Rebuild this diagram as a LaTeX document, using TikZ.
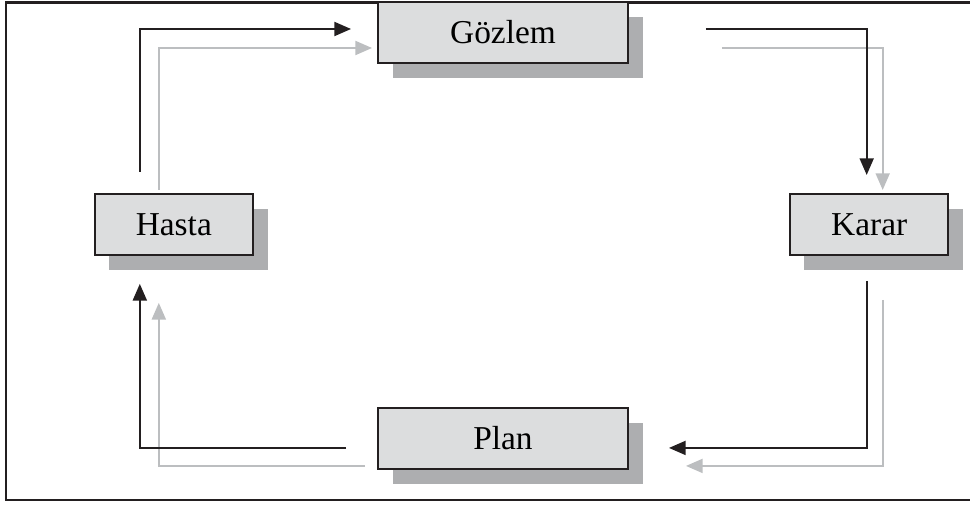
\documentclass[tikz,border=0pt]{standalone}
\usepackage{fontspec}
\setmainfont{Liberation Serif}
\usetikzlibrary{arrows.meta,positioning,shadows}
\definecolor{cycleink}{HTML}{231F20}
\definecolor{cyclegray}{HTML}{BCBEC0}
\definecolor{cyclefill}{HTML}{DCDDDE}
\definecolor{cycleshade}{HTML}{ADAEB0}
\tikzset{
  cyclebox/.style={
    draw=cycleink,
    line width=1.1pt,
    fill=cyclefill,
    minimum width=#1,
    minimum height=1.22cm,
    inner sep=0pt,
    font=\fontsize{19}{22}\selectfont,
    drop shadow={shadow xshift=0.29cm,shadow yshift=-0.3cm,fill=cycleshade,opacity=1}
  },
  cyclebox/.default=5cm,
  darkflow/.style={-{Triangle[length=9.5pt,width=8pt]},line width=1pt,draw=cycleink},
  lightflow/.style={-{Triangle[length=9.5pt,width=8pt]},line width=1pt,draw=cyclegray},
  outerframe/.style={draw=cycleink,line width=1.2pt}
}

\begin{document}
\begin{tikzpicture}
  \useasboundingbox (0,0) rectangle (19.4,10.1);
  \draw[outerframe] (0.12,0.1) rectangle (19.6,10.05);

  \node[cyclebox] (gozlem) at (10.06,9.45) {Gözlem};
  \node[cyclebox=3.17cm, below left=2.58cm and 2.46cm of gozlem] (hasta) {Hasta};
  \node[cyclebox=3.17cm, below right=2.58cm and 3.2cm of gozlem] (karar) {Karar};
  \node[cyclebox, below=6.86cm of gozlem] (plan) {Plan};

  % gray loop first, the black one runs over it
  \draw[lightflow] ([shift={(-0.3,0.06)}]hasta.north) |- ([shift={(-0.1,-0.31)}]gozlem.west);
  \draw[lightflow] ([shift={(1.86,-0.31)}]gozlem.east) -| ([shift={(0.27,0.06)}]karar.north);
  \draw[lightflow] ([shift={(0.27,-0.88)}]karar.south) |- ([shift={(1.14,-0.55)}]plan.east);
  \draw[lightflow] ([shift={(-0.24,-0.55)}]plan.west) -| ([shift={(-0.3,-0.94)}]hasta.south);

  \draw[darkflow] ([shift={(-0.68,0.42)}]hasta.north) |- ([shift={(-0.52,0.07)}]gozlem.west);
  \draw[darkflow] ([shift={(1.54,0.07)}]gozlem.east) -| ([shift={(-0.05,0.36)}]karar.north);
  \draw[darkflow] ([shift={(-0.05,-0.5)}]karar.south) |- ([shift={(0.8,-0.19)}]plan.east);
  \draw[darkflow] ([shift={(-0.62,-0.19)}]plan.west) -| ([shift={(-0.68,-0.56)}]hasta.south);
\end{tikzpicture}
\end{document}
